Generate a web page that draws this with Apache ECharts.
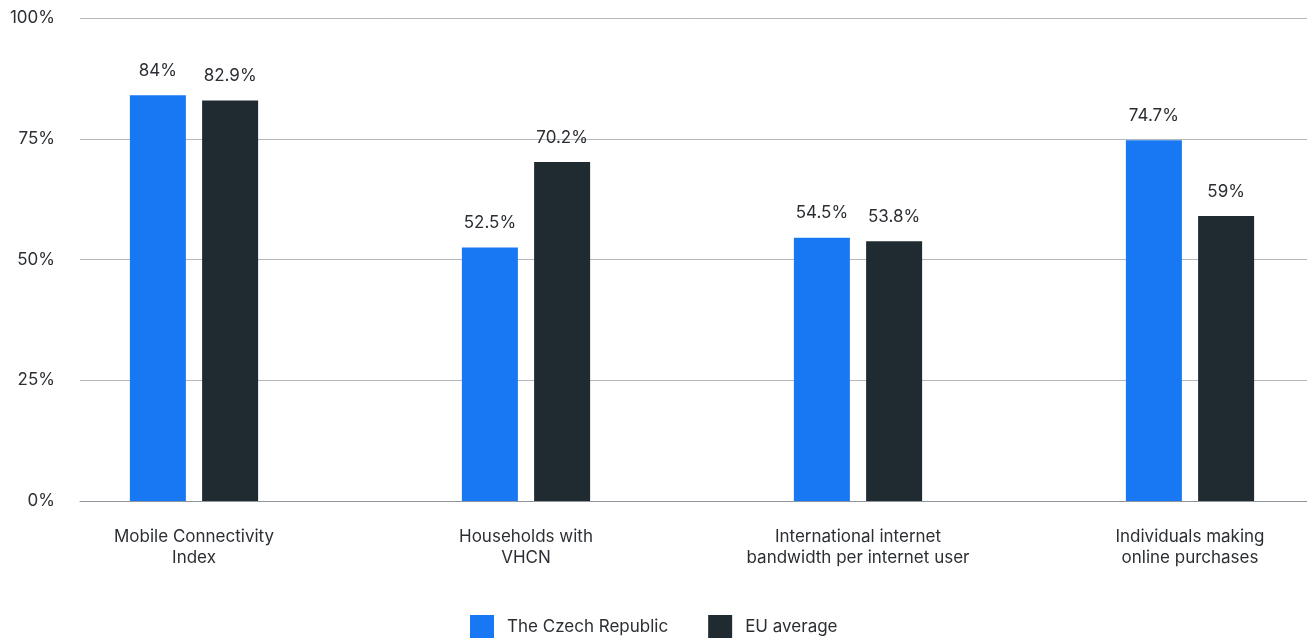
<!DOCTYPE html>
<html>
<head>
<meta charset="utf-8">
<script src="https://cdn.jsdelivr.net/npm/echarts@6/dist/echarts.min.js"></script>
<style>
  html, body { margin: 0; padding: 0; background: #fff; overflow: hidden; }
  /* canvas runs a little past the right edge so the last group keeps its full slot */
  #chart { width: 1356px; height: 642px; }
</style>
</head>
<body>
<div id="chart"></div>
<script>
// Digital connectivity indicators: Czech Republic vs EU average (%)
const categories = [
  'Mobile Connectivity\nIndex',
  'Households with\nVHCN',
  'International internet\nbandwidth per internet user',
  'Individuals making\nonline purchases'
];
const czechValues = [84, 52.5, 54.5, 74.7];
const euValues = [82.9, 70.2, 53.8, 59];
const yTicks = [0, 25, 50, 75, 100];

const FONT = 'Inter, "Noto Sans", sans-serif';
const TEXT = '#2b2f33';
const BLUE = '#1877f2';
const DARK = '#1f2b31';

const chart = echarts.init(document.getElementById('chart'));

const valueLabel = {
  show: true,
  position: 'top',
  distance: 16,
  formatter: p => p.value + '%',
  fontFamily: FONT,
  fontSize: 17,
  color: TEXT
};

chart.setOption({
  animation: false,
  grid: [
    // gridline frame (ends at the visible right edge)
    { left: 80, right: 49, top: 18, bottom: 141 },
    // bar area
    { left: 28, right: 0, top: 18, bottom: 141 }
  ],
  legend: {
    left: 465,
    top: 610,
    icon: 'rect',
    itemWidth: 24,
    itemHeight: 23,
    itemGap: 40,
    textStyle: { fontFamily: FONT, fontSize: 17, color: TEXT, padding: [0, 0, 0, 8] },
    data: ['The Czech Republic', 'EU average']
  },
  xAxis: [
    {
      gridIndex: 0,
      type: 'category',
      data: categories,
      axisLine: { show: true, lineStyle: { color: '#8e949c', width: 1 } },
      axisTick: { show: false },
      axisLabel: { show: false }
    },
    {
      gridIndex: 1,
      type: 'category',
      data: categories,
      axisLine: { show: false },
      axisTick: { show: false },
      axisLabel: {
        margin: 25,
        fontFamily: FONT,
        fontSize: 17,
        lineHeight: 21,
        color: TEXT,
        align: 'center'
      }
    }
  ],
  yAxis: [
    {
      gridIndex: 0,
      type: 'value',
      min: yTicks[0],
      max: yTicks[yTicks.length - 1],
      interval: 25,
      axisLine: { show: false },
      axisTick: { show: false },
      splitLine: { lineStyle: { color: '#b4b8bd', width: 1 } },
      axisLabel: {
        margin: 25,
        fontFamily: FONT,
        fontSize: 17,
        color: TEXT,
        formatter: v => v + '%'
      }
    },
    {
      gridIndex: 1,
      type: 'value',
      min: yTicks[0],
      max: yTicks[yTicks.length - 1],
      interval: 25,
      show: false
    }
  ],
  series: [
    {
      name: 'The Czech Republic',
      type: 'bar',
      xAxisIndex: 1,
      yAxisIndex: 1,
      data: czechValues,
      barWidth: 56,
      barGap: '29%',
      itemStyle: { color: BLUE },
      label: valueLabel
    },
    {
      name: 'EU average',
      type: 'bar',
      xAxisIndex: 1,
      yAxisIndex: 1,
      data: euValues,
      barWidth: 56,
      barGap: '29%',
      itemStyle: { color: DARK },
      label: valueLabel
    }
  ]
});
</script>
</body>
</html>
